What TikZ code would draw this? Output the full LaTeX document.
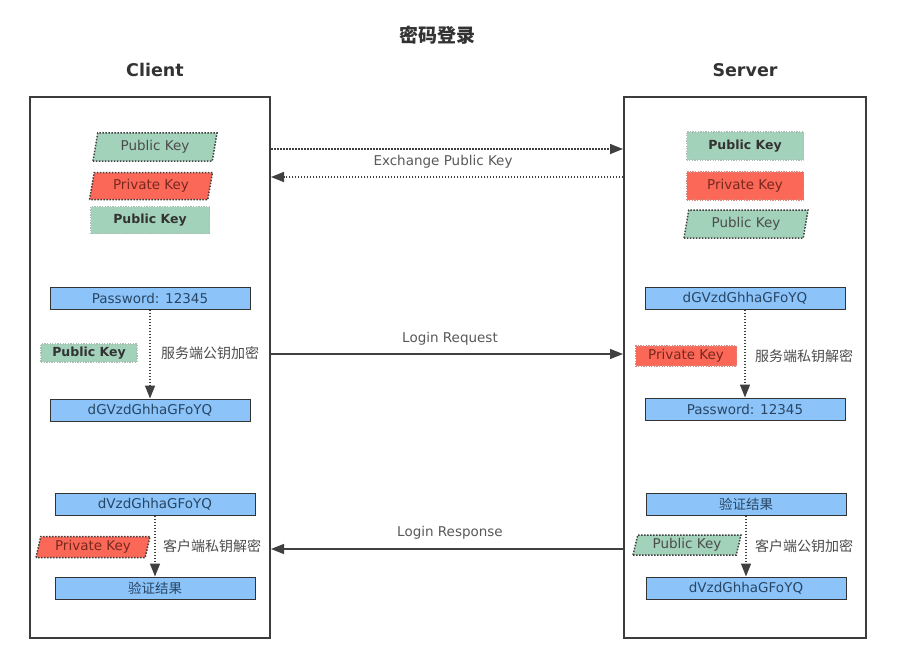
\documentclass[tikz,border=0pt]{standalone}
\usepackage{fontspec}
\setmainfont{DejaVu Sans}
\newfontfamily\cjk{Noto Sans CJK SC}
\usetikzlibrary{arrows.meta,shapes.geometric}
\definecolor{boxblue}{RGB}{140,196,250}
\definecolor{keygreen}{RGB}{163,210,186}
\definecolor{keyred}{RGB}{252,104,88}
\definecolor{txtblue}{RGB}{40,70,100}
\definecolor{txtred}{RGB}{120,40,30}
\definecolor{framegray}{RGB}{60,60,60}
\begin{document}
\begin{tikzpicture}[x=1pt,y=-1pt,
    side/.style ={draw=framegray, line width=1.3pt},
    step box/.style ={rectangle, draw=black!80, line width=1pt, fill=boxblue,
      text=txtblue, font=\fontsize{13.5}{15}\selectfont, minimum width=200pt, minimum height=22pt, inner sep=0pt},
    greenkey/.style ={rectangle, fill=keygreen, draw=keygreen!70!black!60, dash pattern=on 1.3pt off 1.3pt, line width=1.2pt,
      text=black!80, font=\fontsize{12.5}{14}\selectfont\bfseries, inner sep=0pt},
    redkey/.style ={rectangle, fill=keyred, draw=keyred!80!black!70, dash pattern=on 1.3pt off 1.3pt, line width=1.2pt,
      text=txtred, font=\fontsize{13.5}{15}\selectfont, inner sep=0pt},
    slant/.style ={trapezium, trapezium left angle=70, trapezium right angle=110,
      trapezium stretches body, draw=black!75, dash pattern=on 1.5pt off 1.5pt, line width=1.5pt, inner sep=0pt},
    note/.style ={text=black!65, font=\fontsize{13.5}{15}\selectfont},
    cnote/.style ={text=black!70, font=\cjk\fontsize{14}{16}\selectfont},
    msg/.style ={line width=1.2pt, draw=black!75, -{Triangle[length=13pt,width=10pt]}},
    flow/.style ={line width=1.5pt, draw=black!75, dash pattern=on 1.5pt off 1.5pt, -{Triangle[length=13pt,width=10pt]}}]
   \useasboundingbox (0,0) rectangle (899,658);
   \fill[white] (0,0) rectangle (899,658);

   % titles
   \node[font=\cjk\fontsize{19}{21}\selectfont\bfseries, text=black!80] (title) at (437,35) {密码登录};
   \node[font=\fontsize{17.5}{19}\selectfont\bfseries, text=black!80] (client) at (155,70) {Client};
   \node[font=\fontsize{17.5}{19}\selectfont\bfseries, text=black!80] (server) at (745,70) {Server};

   % the two sides
   \draw[side] (30,97) rectangle (270,638);
   \draw[side] (624,97) rectangle (866,638);
   \coordinate (cl1) at (271,149);
   \coordinate (sr1) at (623,149);
   \coordinate (cl2) at (271,177);
   \coordinate (sr2) at (623,177);
   \coordinate (cl3) at (271,354);
   \coordinate (sr3) at (623,354);
   \coordinate (cl4) at (271,549);
   \coordinate (sr4) at (623,549);

   % keys of the client
   \node[greenkey,slant,text=black!70,font=\fontsize{13.5}{15}\selectfont,minimum width=124pt,minimum height=28pt] (cpub1) at (155,147) {Public Key};
   \node[redkey,slant,text=txtred,minimum width=123pt,minimum height=27pt] (cpriv) at (151,186) {Private Key};
   \node[greenkey,minimum width=119pt,minimum height=27pt] (cpub2) at (150,220) {Public Key};

   % keys of the server
   \node[greenkey,minimum width=117pt,minimum height=28pt] (spub1) at (745,146) {Public Key};
   \node[redkey,minimum width=117pt,minimum height=28pt] (spriv) at (745,186) {Private Key};
   \node[greenkey,slant,text=black!70,font=\fontsize{13.5}{15}\selectfont,minimum width=124pt,minimum height=28pt] (spub2) at (746,224) {Public Key};

   \draw[flow] (cl1) to (sr1);
   \draw[flow] (sr2) to (cl2);
   \node[note] (xlabel) at (443,162) {Exchange Public Key};

   % login request
   \node[step box] (cpass) at (150,298) {Password: 12345};
   \node[step box] (cenc) at (150,410) {dGVzdGhhaGFoYQ};
   \node[greenkey,minimum width=96pt,minimum height=18pt] (ckey3) at (89,353) {Public Key};
   \node[cnote] (cenclabel) at (210,353) {服务端公钥加密};
   \draw[flow] (cpass) to (cenc);

   \draw[msg] (cl3) to (sr3);
   \node[note] (reqlabel) at (450,339) {Login Request};

   \node[step box] (senc) at (745,298) {dGVzdGhhaGFoYQ};
   \node[step box] (spass) at (745,409) {Password: 12345};
   \node[redkey,minimum width=101pt,minimum height=20pt] (skey3) at (686,356) {Private Key};
   \node[cnote] (sdeclabel) at (804,356) {服务端私钥解密};
   \draw[flow] (senc) to (spass);

   % login response
   \node[step box] (sres) at (746,504) {\cjk 验证结果};
   \node[step box] (sout) at (746,588) {dVzdGhhaGFoYQ};
   \node[greenkey,slant,text=black!70,font=\fontsize{13.5}{15}\selectfont,minimum width=108pt,minimum height=20pt] (skey4) at (687,545) {Public Key};
   \node[cnote] (senclabel) at (804,546) {客户端公钥加密};
   \draw[flow] (sres) to (sout);

   \draw[msg] (sr4) to (cl4);
   \node[note] (reslabel) at (450,533) {Login Response};

   \node[step box] (cin) at (155,504) {dVzdGhhaGFoYQ};
   \node[step box] (cres) at (155,588) {\cjk 验证结果};
   \node[redkey,slant,text=txtred,minimum width=114pt,minimum height=21pt] (ckey4) at (93,547) {Private Key};
   \node[cnote] (cdeclabel) at (212,546) {客户端私钥解密};
   \draw[flow] (cin) to (cres);
 \end{tikzpicture}
\end{document}
